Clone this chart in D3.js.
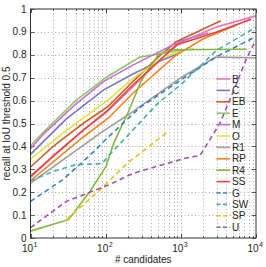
<!DOCTYPE html>
<html>
<head>
<meta charset="utf-8">
<script src="https://cdn.jsdelivr.net/npm/d3@7"></script>
<style>
body { margin: 0; background: #fff; }
svg { display: block; }
text { font-family: "Liberation Sans", Arial, sans-serif; fill: #222; }
</style>
</head>
<body>
<div id="graph"></div>
<script>
// series names, in legend order
var methods = ["B", "C", "EB", "E", "M", "O", "R1", "RP", "R4", "SS", "G", "SW", "SP", "U"];
var colors = ["#e87bb6", "#7b74c4", "#c8602a", "#8cc86a", "#c86ccc", "#e2e244", "#9c9c9c",
              "#f0821e", "#84b83c", "#e8403a", "#3c7fc0", "#44b2a2", "#e8c220", "#a052a8"];
var dashed = [false, false, false, false, false, false, false, false, false, false,
              true, true, true, true];

// [# candidates, recall]
var B  = [[10,0.263],[20,0.36],[50,0.47],[100,0.545],[230,0.66],[500,0.77],[1000,0.855],[3000,0.922],[10000,0.97]];
var C  = [[10,0.365],[30,0.52],[93,0.646],[230,0.716],[500,0.77],[1000,0.81]];
var EB = [[10,0.31],[20,0.40],[50,0.50],[108,0.575],[230,0.683],[500,0.79],[870,0.857],[3400,0.949]];
var E  = [[10,0.403],[15,0.464],[40,0.60],[100,0.70],[285,0.79],[1000,0.82],[1500,0.825]];
var M  = [[10,0.39],[15,0.455],[40,0.585],[93,0.683],[230,0.755],[1000,0.86],[2300,0.895]];
var O  = [[10,0.344],[30,0.47],[108,0.603],[230,0.697],[600,0.79],[1000,0.815]];
var R1 = [[10,0.24],[84,0.457],[230,0.552],[1000,0.70],[2930,0.79],[10000,0.787]];
var RP = [[10,0.25],[50,0.44],[108,0.523],[230,0.632],[870,0.80],[2000,0.87],[5500,0.93]];
var R4 = [[10,0.03],[32,0.08],[62,0.204],[101,0.313],[130,0.42],[200,0.55],[300,0.69],[500,0.80],[700,0.822],[7500,0.824]];
var SS = [[10,0.27],[50,0.47],[108,0.56],[230,0.668],[870,0.843],[3000,0.90],[8600,0.955]];
var G  = [[10,0.16],[27,0.255],[71,0.38],[100,0.43],[285,0.57],[1000,0.69],[2930,0.79],[10000,0.88]];
var SW = [[10,0.25],[20,0.29],[40,0.32],[90,0.325],[110,0.36],[200,0.45],[500,0.59],[1000,0.67],[3000,0.82],[10000,0.92]];
var SP = [[30,0.08],[84,0.21],[200,0.33],[650,0.46]];
var U  = [[10,0.045],[30,0.16],[107,0.23],[233,0.283],[1130,0.348],[1800,0.36],[3300,0.50],[5000,0.64],[7500,0.785],[10000,0.865]];
var series = [B, C, EB, E, M, O, R1, RP, R4, SS, G, SW, SP, U];

var xTicks = [10, 100, 1000, 10000];
var xTickExp = ["1", "2", "3", "4"];
var yTicks = [0, 0.1, 0.2, 0.3, 0.4, 0.5, 0.6, 0.7, 0.8, 0.9, 1];

!(function(){
    "use strict"

    var width = 266;
    var height = 267;
    var margin = {left: 30.5, right: 10, top: 9, bottom: 29};

    var svg = d3.select("#graph").append("svg")
        .attr("width", width)
        .attr("height", height);

    var x = d3.scaleLog().domain([10, 10000]).range([margin.left, width - margin.right]);
    var y = d3.scaleLinear().domain([0, 1]).range([height - margin.bottom, margin.top]);

    var x0 = x.range()[0], x1 = x.range()[1];
    var y0 = y.range()[0], y1 = y.range()[1];

    // minor positions on the log axis
    var minor = [];
    [10, 100, 1000].forEach(function(d){
        for (var k = 2; k <= 10; k++) minor.push(d * k);
    });
    minor = minor.filter(function(d){ return d < 10000; });

    var grid = svg.append("g")
        .attr("stroke", "#9a9a9a")
        .attr("stroke-width", 0.8)
        .attr("stroke-dasharray", "1,2.5");

    grid.selectAll(".gx").data(minor).enter().append("line")
        .attr("x1", function(d){ return Math.round(x(d)) + 0.5; })
        .attr("x2", function(d){ return Math.round(x(d)) + 0.5; })
        .attr("y1", y0).attr("y2", y1);

    grid.selectAll(".gy").data(yTicks.slice(1, -1)).enter().append("line")
        .attr("x1", x0).attr("x2", x1)
        .attr("y1", function(d){ return Math.round(y(d)) + 0.5; })
        .attr("y2", function(d){ return Math.round(y(d)) + 0.5; });

    // inward ticks on all four sides
    var ticks = svg.append("g").attr("stroke", "#333").attr("stroke-width", 0.8);
    minor.concat(xTicks).forEach(function(d){
        var len = xTicks.indexOf(d) >= 0 ? 4 : 2;
        var px = Math.round(x(d)) + 0.5;
        ticks.append("line").attr("x1", px).attr("x2", px).attr("y1", y0).attr("y2", y0 - len);
        ticks.append("line").attr("x1", px).attr("x2", px).attr("y1", y1).attr("y2", y1 + len);
    });
    yTicks.forEach(function(d){
        var py = Math.round(y(d)) + 0.5;
        ticks.append("line").attr("x1", x0).attr("x2", x0 + 4).attr("y1", py).attr("y2", py);
        ticks.append("line").attr("x1", x1).attr("x2", x1 - 4).attr("y1", py).attr("y2", py);
    });

    var line = d3.line()
        .x(function(d){ return x(d[0]); })
        .y(function(d){ return y(d[1]); });

    var plot = svg.append("g");
    series.forEach(function(s, i) {
        plot.append("path")
            .datum(s)
            .attr("d", line)
            .attr("fill", "none")
            .attr("stroke", colors[i])
            .attr("stroke-width", 1.6)
            .attr("stroke-dasharray", dashed[i] ? "5,3.5" : null);
    });

    // box
    svg.append("rect")
        .attr("x", x0).attr("y", y1)
        .attr("width", x1 - x0).attr("height", y0 - y1)
        .attr("fill", "none")
        .attr("stroke", "#333")
        .attr("stroke-width", 1);

    // y tick labels
    svg.selectAll(".ylab").data(yTicks).enter().append("text")
        .attr("x", x0 - 4)
        .attr("y", function(d){ return y(d) + 3.5; })
        .attr("text-anchor", "end")
        .attr("font-size", 10)
        .text(function(d){ return d === 0 ? "0" : d === 1 ? "1" : d3.format(".1f")(d); });

    // x tick labels, 10 with exponent
    xTicks.forEach(function(d, i){
        svg.append("text")
            .attr("x", x(d) - 3)
            .attr("y", y0 + 14)
            .attr("text-anchor", "middle")
            .attr("font-size", 10)
            .text("10");
        svg.append("text")
            .attr("x", x(d) + 3)
            .attr("y", y0 + 9)
            .attr("font-size", 7)
            .text(xTickExp[i]);
    });

    svg.append("text")
        .attr("x", (x0 + x1) / 2)
        .attr("y", height - 4)
        .attr("text-anchor", "middle")
        .attr("font-size", 10)
        .text("# candidates");

    svg.append("text")
        .attr("transform", "translate(10," + ((y0 + y1) / 2) + ") rotate(-90)")
        .attr("text-anchor", "middle")
        .attr("font-size", 10)
        .text("recall at IoU threshold 0.5");

    // legend, no box
    var legend = svg.append("g");
    methods.forEach(function(m, i){
        var ly = 79 + i * 11.4;
        legend.append("line")
            .attr("x1", 216.5).attr("x2", 230)
            .attr("y1", ly).attr("y2", ly)
            .attr("stroke", colors[i])
            .attr("stroke-width", 1.6)
            .attr("stroke-dasharray", dashed[i] ? "4,2.5" : null);
        legend.append("text")
            .attr("x", 232)
            .attr("y", ly + 3.6)
            .attr("font-size", 10)
            .text(m);
    });
}());
</script>
</body>
</html>
